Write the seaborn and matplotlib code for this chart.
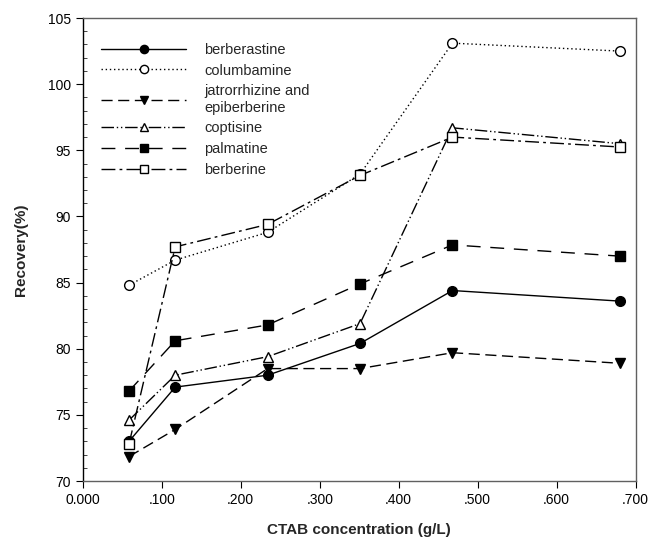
import numpy as np
import pandas as pd
import matplotlib
matplotlib.use("Agg")
import matplotlib.pyplot as plt
from matplotlib.ticker import MultipleLocator, FuncFormatter
import seaborn as sns

# CTAB concentrations (g/L)
conc = [0.0585, 0.117, 0.234, 0.351, 0.468, 0.680]

# recovery (%) for each alkaloid
berberastine = [73.0, 77.1, 78.0, 80.4, 84.4, 83.6]
columbamine = [84.8, 86.7, 88.8, 93.2, 103.1, 102.5]
jatrorrhizine = [71.85, 73.9, 78.5, 78.5, 79.7, 78.9]
coptisine = [74.6, 78.0, 79.4, 81.9, 96.7, 95.5]
palmatine = [76.8, 80.6, 81.8, 84.9, 87.85, 87.0]
berberine = [72.8, 87.7, 89.4, 93.1, 96.0, 95.25]

names = ["berberastine", "columbamine", "jatrorrhizine and\nepiberberine",
         "coptisine", "palmatine", "berberine"]
series = [berberastine, columbamine, jatrorrhizine, coptisine, palmatine, berberine]

# marker, facecolor, dash pattern
styles = [
    ("o", "black", (None, None)),
    ("o", "white", (1, 2)),
    ("v", "black", (8, 4)),
    ("^", "white", (9, 2, 1, 2, 1, 2)),
    ("s", "black", (10, 7)),
    ("s", "white", (10, 3, 2, 3)),
]

sns.set_style("ticks")
plt.rcParams['font.family'] = ['Liberation Sans', 'DejaVu Sans']

fig = plt.figure(figsize=(6.52, 5.46), dpi=100)
ax = fig.add_axes([0.127, 0.119, 0.848, 0.848])

for name, vals, (mk, fc, dash) in zip(names, series, styles):
    df = pd.DataFrame({"x": conc, "y": vals})
    sns.lineplot(data=df, x="x", y="y", ax=ax, color="black", lw=1,
                 marker=mk, markersize=7, markerfacecolor=fc,
                 markeredgecolor="black", markeredgewidth=1, label=name)
    l = ax.lines[-1]
    if dash[0] is not None:
        l.set_dashes(dash)

ax.set_xlim(0, 0.7)
ax.set_ylim(70, 105)
ax.xaxis.set_major_locator(MultipleLocator(0.1))
ax.yaxis.set_major_locator(MultipleLocator(5))
ax.yaxis.set_minor_locator(MultipleLocator(1))
ax.xaxis.set_major_formatter(FuncFormatter(
    lambda v, p: "0.000" if abs(v) < 1e-9 else f"{v:.3f}".lstrip("0")))
ax.tick_params(axis="both", which="major", direction="out", length=5,
               width=0.8, labelsize=10, colors="black")
ax.tick_params(axis="y", which="minor", direction="in", length=3, width=0.6)

for s in ax.spines.values():
    s.set_color("#606060")
    s.set_linewidth(1)
ax.spines["left"].set_color("black")

ax.set_xlabel("CTAB concentration (g/L)", fontsize=11, fontweight="bold", labelpad=12)
ax.set_ylabel("Recovery(%)", fontsize=11, fontweight="bold", labelpad=14)

ax.legend(loc="upper left", bbox_to_anchor=(0.01, 0.975), frameon=False,
          fontsize=10.5, handlelength=5.8, handletextpad=1.25, labelspacing=0.47,
          numpoints=1, markerscale=0.85)

fig.savefig("out.png", dpi=100)
